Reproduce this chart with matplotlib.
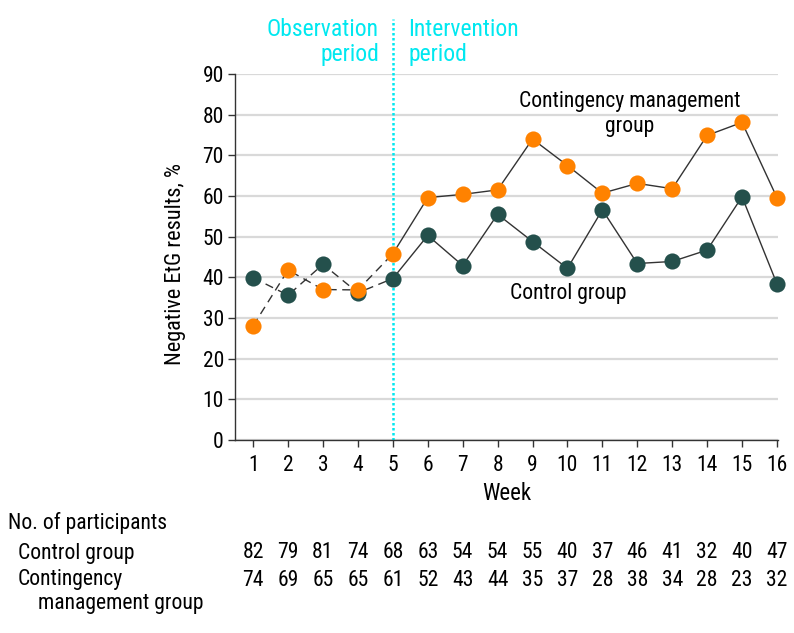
import matplotlib
matplotlib.use("Agg")
import matplotlib.pyplot as plt

weeks = list(range(1, 17))
control = [39.9, 35.6, 43.2, 36.2, 39.7, 50.3, 42.9, 55.5, 48.8, 42.2, 56.6, 43.4, 43.9, 46.7, 59.8, 38.4]
cm = [28.1, 41.8, 37.0, 36.9, 45.8, 59.6, 60.4, 61.5, 74.0, 67.5, 60.7, 63.1, 61.8, 74.9, 78.1, 59.6]
n_control = [82, 79, 81, 74, 68, 63, 54, 54, 55, 40, 37, 46, 41, 32, 40, 47]
n_cm = [74, 69, 65, 65, 61, 52, 43, 44, 35, 37, 28, 38, 34, 28, 23, 32]

fam = ['Roboto Condensed', 'Ubuntu Condensed', 'Liberation Sans Narrow', 'Roboto', 'DejaVu Sans']
plt.rcParams['font.family'] = fam

W, H = 794, 633
fig = plt.figure(figsize=(W / 100, H / 100), dpi=100)
ax = fig.add_axes([235 / W, 1 - 440 / H, (778 - 235) / W, (440 - 74) / H])

green = '#24504c'
orange = '#ff8200'
cyan = '#00e8f0'

ax.set_xlim(0.48, 16.03)
ax.set_ylim(0, 90)
ax.set_yticks(range(0, 91, 10))
ax.set_xticks(weeks)
ax.grid(axis='y', color='#d9d9d9', lw=1.6)
ax.set_axisbelow(True)
for s in ['top', 'right']:
    ax.spines[s].set_visible(False)
for s in ['left', 'bottom']:
    ax.spines[s].set_color('#333333')
    ax.spines[s].set_linewidth(1.0)
ax.tick_params(length=5, width=1, color='#333333', labelsize=15.5)
ax.tick_params(axis='x', pad=6)
ax.tick_params(axis='y', pad=3)

# observation (dashed) and intervention (solid) lines
ax.plot(weeks[:5], control[:5], color='#333333', lw=1, ls=(0, (6, 4)), zorder=2)
ax.plot(weeks[:5], cm[:5], color='#333333', lw=1, ls=(0, (6, 4)), zorder=2)
ax.plot(weeks[4:], control[4:], color='#333333', lw=1, zorder=2)
ax.plot(weeks[4:], cm[4:], color='#333333', lw=1, zorder=2)
ax.scatter(weeks, control, s=135, color=green, zorder=3, clip_on=False, lw=0)
ax.scatter(weeks, cm, s=135, color=orange, zorder=4, clip_on=False, lw=0)

ax.plot([5, 5], [0, 103.5], color=cyan, lw=1.8, ls=(0, (1, 1)), clip_on=False, zorder=1)

ax.set_ylabel('Negative EtG results, %', fontsize=16)
ax.yaxis.set_label_coords(-(235 - 176) / (778 - 235), (440 - 264) / (440 - 74))
ax.set_xlabel('Week', fontsize=16.5)
ax.xaxis.set_label_coords((507 - 235) / (778 - 235), -(493 - 440) / (440 - 74))
ax.xaxis.label.set_va('center')
ax.yaxis.label.set_va('center')

def fx(px):
    return px / W
def fy(py):
    return 1 - py / H

fs_cyan = 17
fig.text(fx(379), fy(29), 'Observation', color=cyan, fontsize=fs_cyan, ha='right', va='center')
fig.text(fx(379), fy(55), 'period', color=cyan, fontsize=fs_cyan, ha='right', va='center')
fig.text(fx(408), fy(29), 'Intervention', color=cyan, fontsize=fs_cyan, ha='left', va='center')
fig.text(fx(408), fy(55), 'period', color=cyan, fontsize=fs_cyan, ha='left', va='center')

fs = 15.6
fig.text(fx(630), fy(101), 'Contingency management', fontsize=fs, ha='center', va='center')
fig.text(fx(630), fy(126), 'group', fontsize=fs, ha='center', va='center')
fig.text(fx(568), fy(293), 'Control group', fontsize=fs, ha='center', va='center')

fig.text(fx(8), fy(523), 'No. of participants', fontsize=fs, ha='left', va='center')
fig.text(fx(18), fy(553), 'Control group', fontsize=fs, ha='left', va='center')
fig.text(fx(18), fy(580), 'Contingency', fontsize=fs, ha='left', va='center')
fig.text(fx(38), fy(604), 'management group', fontsize=fs, ha='left', va='center')

trans = ax.get_xaxis_transform()
for w, a, b in zip(weeks, n_control, n_cm):
    ax.text(w, -(553 - 440) / (440 - 74), str(a), transform=trans, fontsize=fs, ha='center', va='center', clip_on=False)
    ax.text(w, -(580 - 440) / (440 - 74), str(b), transform=trans, fontsize=fs, ha='center', va='center', clip_on=False)

fig.savefig('out.png', dpi=100)
